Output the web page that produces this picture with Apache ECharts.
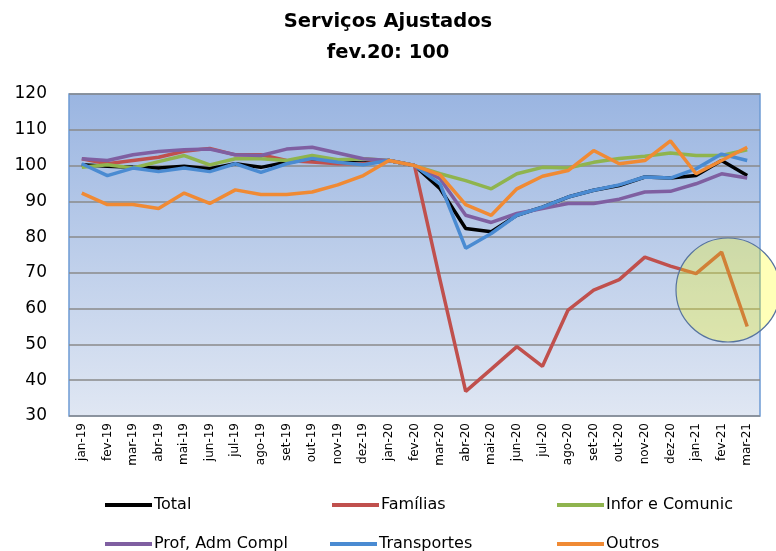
<!DOCTYPE html>
<html>
<head>
<meta charset="utf-8">
<script src="https://cdn.jsdelivr.net/npm/echarts@6/dist/echarts.min.js"></script>
<style>
  html, body { margin: 0; padding: 0; background: #fff; }
  #chart { width: 776px; height: 551px; }
</style>
</head>
<body>
<div id="chart"></div>
<script>
const months = ["jan-19", "fev-19", "mar-19", "abr-19", "mai-19", "jun-19", "jul-19", "ago-19", "set-19", "out-19", "nov-19", "dez-19",
  "jan-20", "fev-20", "mar-20", "abr-20", "mai-20", "jun-20", "jul-20", "ago-20", "set-20", "out-20", "nov-20", "dez-20",
  "jan-21", "fev-21", "mar-21"];

const total = [100.2, 99.8, 99.5, 99.3, 99.8, 99.1, 100.5, 99.5, 100.9, 101.7, 100.9, 100.7, 101.4, 100, 93.5, 82.4, 81.5, 86.1, 88.4, 91.2, 93.1, 94.4, 96.8, 96.5, 97.2, 101.4, 97.2];
const familias = [101.9, 100.5, 101.4, 102.3, 104, 104.8, 103, 103, 101.4, 101, 100.5, 100.5, 101.4, 100, 68, 36.9, 43.1, 49.4, 43.9, 59.6, 65.2, 68.1, 74.4, 71.9, 69.8, 75.8, 55];
const inforComunic = [99.5, 100.2, 99.3, 101.1, 102.8, 100.2, 101.9, 101.9, 101.4, 102.8, 101.6, 101.9, 101.4, 100, 97.7, 95.8, 93.5, 97.7, 99.5, 99.3, 100.9, 102, 102.6, 103.5, 102.8, 102.8, 104.4];
const profAdm = [101.9, 101.4, 103, 103.9, 104.4, 104.6, 103, 102.8, 104.6, 105.1, 103.5, 101.9, 101.4, 100, 96.3, 86.1, 84.1, 86.6, 88, 89.4, 89.4, 90.6, 92.6, 92.8, 94.9, 97.7, 96.5];
const transportes = [100.5, 97.2, 99.3, 98.3, 99.3, 98.3, 100.5, 98.1, 100.5, 102, 100.9, 100.2, 101.4, 100, 94.9, 76.9, 81, 86.1, 88.4, 91.2, 93.1, 94.6, 96.8, 96.5, 99.1, 103.2, 101.4];
const outros = [92.3, 89.1, 89.1, 88, 92.3, 89.4, 93.2, 91.9, 91.9, 92.6, 94.6, 97.2, 101.4, 100, 97.4, 89.1, 86.1, 93.5, 97, 98.6, 104.2, 100.5, 101.4, 106.9, 97.7, 101.4, 105.1];

const seriesNames = ["Total", "Famílias", "Infor e Comunic", "Prof, Adm Compl", "Transportes", "Outros"];
const seriesData = [total, familias, inforComunic, profAdm, transportes, outros];
const colors = ["#000000", "#c0504d", "#8fb44e", "#7f5fa1", "#4a8bd2", "#f08a34"];

const chart = echarts.init(document.getElementById("chart"));

// legend: one block per item, 3 columns x 2 rows
const legendPos = [
  { left: 105, top: 497 }, { left: 332, top: 497 }, { left: 557, top: 497 },
  { left: 105, top: 536 }, { left: 330, top: 536 }, { left: 557, top: 536 },
];
const legends = seriesNames.map((name, i) => ({
  data: [name],
  left: legendPos[i].left,
  top: legendPos[i].top,
  padding: 0,
  icon: "rect",
  itemWidth: 47,
  itemHeight: 4,
  itemGap: 0,
  textStyle: { fontSize: 16, color: "#000", fontFamily: "DejaVu Sans", padding: [0, 0, 0, -3] },
}));

const option = {
  animation: false,
  title: {
    text: "Serviços Ajustados\nfev.20: 100",
    left: "center",
    top: 1,
    textStyle: { fontSize: 19.5, fontWeight: "bold", fontFamily: "DejaVu Sans", lineHeight: 31, color: "#000" },
  },
  legend: legends,
  grid: {
    left: 69,
    right: 16,
    top: 94,
    bottom: 135,
    show: true,
    borderColor: "#6e9bd3",
    borderWidth: 1.5,
    backgroundColor: {
      type: "linear", x: 0, y: 0, x2: 0, y2: 1,
      colorStops: [
        { offset: 0, color: "#9ab5e1" },
        { offset: 1, color: "#e0e7f3" },
      ],
    },
  },
  xAxis: {
    type: "category",
    data: months,
    boundaryGap: true,
    axisLine: { show: false },
    axisTick: { show: false },
    axisLabel: { rotate: 90, fontSize: 12, color: "#000", fontFamily: "DejaVu Sans", margin: 7, interval: 0 },
  },
  yAxis: {
    type: "value",
    min: 30,
    max: 120,
    interval: 10,
    axisLine: { show: false },
    axisTick: { show: false },
    axisLabel: { fontSize: 17, color: "#000", fontFamily: "DejaVu Sans", margin: 22, padding: [4, 0, 0, 0] },
    splitLine: { lineStyle: { color: "#8a8a8a", width: 1.5 } },
  },
  series: seriesNames.map((name, i) => ({
    name: name,
    type: "line",
    data: seriesData[i],
    symbol: "none",
    lineStyle: { width: 3.5, color: colors[i] },
    itemStyle: { color: colors[i] },
  })),
  graphic: [
    {
      type: "circle",
      shape: { cx: 728, cy: 290, r: 52 },
      style: { fill: "rgba(255,255,0,0.28)", stroke: "#56739e", lineWidth: 1.2 },
      z: 100,
    },
  ],
};

chart.setOption(option);
</script>
</body>
</html>
